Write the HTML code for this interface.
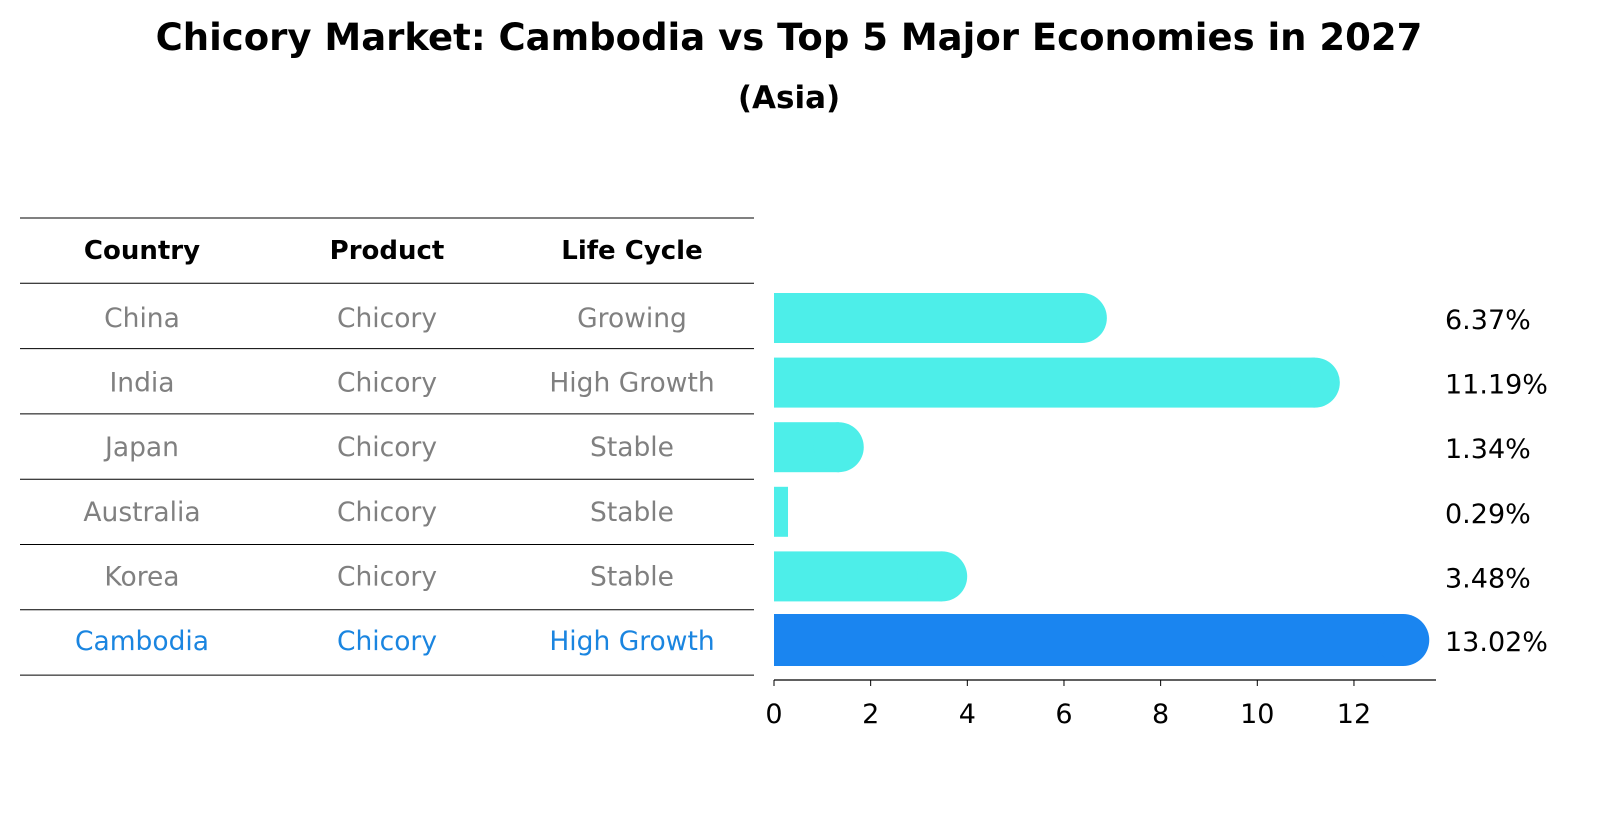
<!DOCTYPE html>
<html><head><meta charset="utf-8"><style>
body{margin:0;background:#fff;font-family:"Liberation Sans","DejaVu Sans",sans-serif;}
svg text{font-family:"DejaVu Sans","Liberation Sans",sans-serif;}
</style></head><body>
<svg width="1604" height="823" xmlns="http://www.w3.org/2000/svg" id="chart">
<text x="789" y="50" text-anchor="middle" font-size="37" font-weight="bold">Chicory Market: Cambodia vs Top 5 Major Economies in 2027</text>
<text x="789" y="108" text-anchor="middle" font-size="31" font-weight="bold">(Asia)</text>
<g id="table"></g>
<g id="bars"></g>
<g id="axis"></g>
</svg>
<script>
const countries=["China","India","Japan","Australia","Korea","Cambodia"];
const products=["Chicory","Chicory","Chicory","Chicory","Chicory","Chicory"];
const lifecycles=["Growing","High Growth","Stable","Stable","Stable","High Growth"];
const values=[6.37,11.19,1.34,0.29,3.48,13.02];
const ticks=[0,2,4,6,8,10,12];
const NS="http://www.w3.org/2000/svg";
function mk(t,a,p){const e=document.createElementNS(NS,t);for(const k in a)e.setAttribute(k,a[k]);p.appendChild(e);return e;}
const x=v=>774+v*48.33;
const rowY=i=>318+i*64.6;
const tbl=document.getElementById('table');
const colX=[142,387,632];
const hdr=["Country","Product","Life Cycle"];
hdr.forEach((h,j)=>{const t=mk('text',{x:colX[j],y:259,'text-anchor':'middle','font-size':26,'font-weight':'bold'},tbl);t.textContent=h;

});
for(let k=0;k<8;k++){const l=mk('line',{x1:20,x2:754,y1:218+k*65.3,y2:218+k*65.3,stroke:'#000','stroke-width':1},tbl);

}
countries.forEach((c,i)=>{
 const col=i===5?'#1a85e0':'#808080';
 [c,products[i],lifecycles[i]].forEach((s,j)=>{const t=mk('text',{x:colX[j],y:rowY(i)+9,'text-anchor':'middle','font-size':26.5,fill:col},tbl);t.textContent=s;
 
 });
});
const bars=document.getElementById('bars');
values.forEach((v,i)=>{
 const cy=rowY(i)+(i===5?-1:0);
 const col=i===5?'#1a85f0':'#4deee9';
 const h=i===5?52:50;
 const g=mk('g',{},bars);
 
 
 mk('rect',{x:x(0),y:cy-h/2,width:x(v)-x(0),height:h,fill:col},g);
 if(v>1)mk('circle',{cx:x(v),cy:cy,r:h/2,fill:col},g);
 const t=mk('text',{x:1445,y:cy+11,'font-size':27},bars);t.textContent=v.toFixed(2)+'%';
 
 
});
const ax=document.getElementById('axis');
mk('line',{x1:774,x2:1436,y1:680,y2:680,stroke:'#000','stroke-width':1.2},ax);
ticks.forEach(v=>{mk('line',{x1:x(v),x2:x(v),y1:680,y2:686,stroke:'#000'},ax);
 const t=mk('text',{x:x(v),y:723,'text-anchor':'middle','font-size':27},ax);t.textContent=v;
 
 });
</script>
</body></html>
